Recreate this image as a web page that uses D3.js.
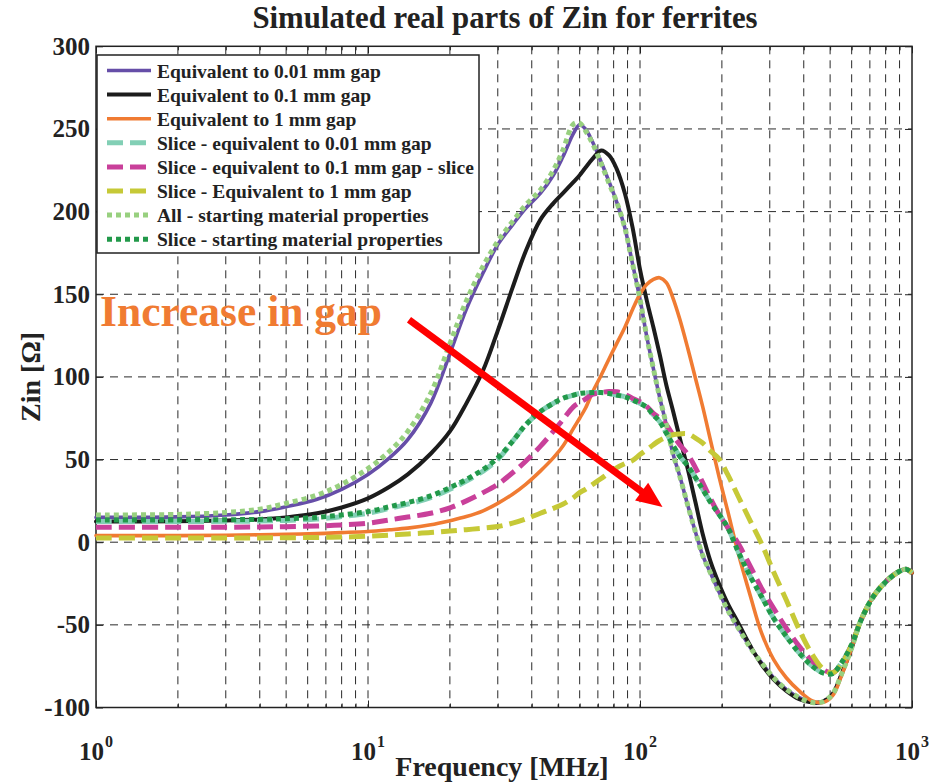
<!DOCTYPE html>
<html>
<head>
<meta charset="utf-8">
<script src="https://cdn.jsdelivr.net/npm/d3@7"></script>
<style>
  html, body { margin: 0; padding: 0; background: #fff; }
  svg { display: block; font-family: "Liberation Serif", "Times New Roman", serif; font-weight: bold; }
</style>
</head>
<body>
<svg id="chart" width="933" height="784"></svg>
<script>
// Frequency grid shared by every series (MHz)
const freqMHz = [1, 2, 3, 4, 5, 6.5, 8, 10, 12, 14,
  17, 20, 23, 26.5, 30, 34, 38, 43, 48, 52,
  57, 60, 63, 67, 72, 77, 82, 88, 94, 100,
  106, 112, 118, 125, 132, 140, 150, 160, 170, 182,
  195, 210, 230, 255, 280, 310, 345, 385, 430, 470,
  510, 550, 600, 650, 720, 800, 880, 950, 1000];

// Real part of Zin (ohm) for each configuration
const zinGap001 = [15, 15.3, 16.5, 18.5, 21.5, 26, 32, 41, 51, 62,
  84, 114, 141, 163, 180, 192, 202, 211, 222, 233,
  247.5, 252.5, 250, 242, 230, 218, 206, 190, 168, 147,
  124, 105, 88, 71, 54, 40, 22, 6, -8, -19,
  -30, -41, -52, -64, -73, -82, -89, -94, -97, -96.5,
  -92, -80, -64, -47, -33, -24, -18.5, -16.3, -18.5];

const zinGap01 = [12.5, 12.7, 13.2, 13.8, 15, 17.5, 21, 26.5, 33.5, 41,
  53.5, 67, 84, 104, 128, 154, 176, 195, 205, 211,
  218, 222, 226.5, 232, 237, 234, 226, 211, 190, 165,
  146, 130, 114, 95, 80, 63, 44, 24, 5, -12,
  -25, -37, -49, -63, -74, -83, -90, -95, -97, -96.5,
  -92, -80, -64, -47, -33, -24, -18.5, -16.3, -18.5];

const zinGap1 = [4, 4, 4.2, 4.5, 4.8, 5.2, 5.8, 6.5, 7.5, 8.5,
  10.5, 13, 15.5, 19, 23.5, 29, 35, 43, 51, 58,
  69, 75, 81, 91, 101, 111, 120, 130, 141, 150,
  156, 159, 160, 157, 148, 135, 117, 99, 82, 61,
  40, 19, -7, -33, -55, -71, -82, -90, -96, -97,
  -93, -81, -64, -47, -33, -24, -18.5, -16.3, -18.5];

const zinSliceGap001 = [12.5, 12.5, 12.6, 12.8, 13.2, 14, 15.5, 17.5, 20.5, 23,
  27, 32, 37, 43, 50, 61, 71, 79, 84, 87,
  89, 90, 90.3, 90.5, 90.5, 90, 89, 88, 86, 84,
  81.5, 77, 73, 66, 59, 52, 46, 39, 32, 24,
  17, 9, -6, -21, -33, -46, -57, -67, -75, -79,
  -79.5, -73, -62, -47, -33, -24, -18.5, -16.3, -18.5];

const zinSliceGap01 = [9, 9, 9, 9.2, 9.4, 9.8, 10.4, 11.5, 13.5, 15.2,
  17.5, 20.8, 25, 30, 35, 42, 49, 58, 67, 74,
  82, 84.5, 86.5, 89.5, 90.5, 91.2, 91, 89.5, 87, 85,
  82, 78, 75, 71, 65, 59, 53, 45, 36, 26,
  17, 9, -1, -15, -28, -40, -52, -63, -72, -77,
  -79, -74, -62, -47, -33, -24, -18.5, -16.3, -18.5];

const zinSliceGap1 = [2.5, 2.5, 2.5, 2.6, 2.7, 2.9, 3.1, 3.6, 4.3, 5,
  5.8, 6.8, 7.6, 8.5, 9.5, 11.5, 14, 17.5, 20.5, 23,
  27, 30, 32, 35, 38.5, 42, 45, 47.5, 49.5, 53,
  56, 59, 61.5, 63.5, 65, 65.5, 65.5, 63, 60, 55,
  50.5, 41, 27.5, 12.5, -1, -18, -35, -53, -68, -76.5,
  -79, -74, -62, -47, -33, -24, -18.5, -16.3, -18.5];

const zinAllStart = [16.5, 16.8, 18, 20, 23.5, 28.5, 35, 44.5, 55, 67,
  90, 120, 146, 167, 182, 194, 204, 213, 225, 237,
  253, 253.5, 249, 241, 229, 217, 206, 190, 168, 147,
  124, 105, 88, 71, 54, 40, 22, 6, -8, -19,
  -30, -41, -52, -64, -73, -82, -89, -94, -97, -96.5,
  -92, -80, -64, -47, -33, -24, -18.5, -16.3, -18.5];

const zinSliceStart = [13.5, 13.5, 13.6, 13.8, 14.2, 15, 16.5, 18.5, 21.5, 24,
  28, 33, 38, 44, 51, 61, 71, 79, 84, 87,
  89, 90, 90.3, 90.5, 90.5, 90, 89, 88, 86, 84,
  81.5, 77, 73, 66, 59, 52, 46, 39, 32, 24,
  17, 9, -6, -21, -33, -46, -57, -67, -75, -79,
  -79.5, -73, -62, -47, -33, -24, -18.5, -16.3, -18.5];

const seriesLabels = [
  "Equivalent to 0.01 mm gap",
  "Equivalent to 0.1 mm gap",
  "Equivalent to 1 mm gap",
  "Slice - equivalent to 0.01 mm gap",
  "Slice - equivalent to 0.1 mm gap - slice",
  "Slice - Equivalent to 1 mm gap",
  "All - starting material properties",
  "Slice - starting material properties"
];
const seriesValues = [zinGap001, zinGap01, zinGap1, zinSliceGap001, zinSliceGap01, zinSliceGap1, zinAllStart, zinSliceStart];

const yTickValues = [-100, -50, 0, 50, 100, 150, 200, 250, 300];
const xDecades = [1, 10, 100, 1000];
const xDecadeExponents = ["0", "1", "2", "3"];

// Annotation arrow, in data units (MHz, ohm)
const gapArrow = { from: [14.15, 134.6], to: [121, 21.3] };
const gapLabel = { text: "Increase in gap", at: [1.035, 131] };

// Line styles per series
const styles = [
  { color: "#664ea8", width: 3.6, dash: null },
  { color: "#1c1c1c", width: 4, dash: null },
  { color: "#f07b32", width: 3.6, dash: null },
  { color: "#82cfb5", width: 5, dash: "16,7" },
  { color: "#c9409a", width: 5, dash: "16,7" },
  { color: "#c6c937", width: 5, dash: "16,7" },
  { color: "#98d07f", width: 5, dash: "5,4" },
  { color: "#22994a", width: 5, dash: "5,4" }
];

const plot = { left: 96, right: 912, top: 46.3, bottom: 707.5 };
const x = d3.scaleLog().domain([1, 1000]).range([plot.left, plot.right]);
const y = d3.scaleLinear().domain([-100, 300]).range([plot.bottom, plot.top]);

const svg = d3.select("#chart");
svg.append("rect").attr("width", 933).attr("height", 784).attr("fill", "#fff");

// Log-spaced positions 1..9 per decade
const logPositions = [];
[1, 10, 100].forEach(d => { for (let m = 1; m < 10; m++) logPositions.push(d * m); });
logPositions.push(1000);
const minorPositions = logPositions.filter(v => !xDecades.includes(v));

// Grid
const grid = svg.append("g").attr("stroke", "#2a2a2a").attr("stroke-width", 1).attr("stroke-dasharray", "8,6");
grid.selectAll("line.vx").data(logPositions.filter(v => v > 1 && v < 1000)).join("line")
  .attr("class", "vx")
  .attr("x1", d => x(d)).attr("x2", d => x(d))
  .attr("y1", plot.top).attr("y2", plot.bottom);
grid.selectAll("line.hy").data(yTickValues.filter(v => v > -100 && v < 300)).join("line")
  .attr("class", "hy")
  .attr("x1", plot.left).attr("x2", plot.right)
  .attr("y1", d => y(d)).attr("y2", d => y(d));

// Tick marks on all four sides, pointing inward
function tickMarks(axisGen, transform) {
  const g = svg.append("g").attr("transform", transform).call(axisGen);
  g.select(".domain").remove();
  g.selectAll(".tick line").attr("stroke", "#222").attr("stroke-width", 1);
  g.selectAll(".tick text").remove();
  return g;
}
tickMarks(d3.axisBottom(x).tickValues(xDecades).tickSize(-7).tickFormat(""), `translate(0,${plot.bottom})`);
tickMarks(d3.axisBottom(x).tickValues(minorPositions).tickSize(-4).tickFormat(""), `translate(0,${plot.bottom})`);
tickMarks(d3.axisTop(x).tickValues(xDecades).tickSize(-7).tickFormat(""), `translate(0,${plot.top})`);
tickMarks(d3.axisTop(x).tickValues(minorPositions).tickSize(-4).tickFormat(""), `translate(0,${plot.top})`);
tickMarks(d3.axisLeft(y).tickValues(yTickValues).tickSize(-7).tickFormat(""), `translate(${plot.left},0)`);
tickMarks(d3.axisRight(y).tickValues(yTickValues).tickSize(-7).tickFormat(""), `translate(${plot.right},0)`);

// Y tick labels (plain hyphen for negatives)
const yAxis = svg.append("g").attr("transform", `translate(${plot.left},0)`)
  .call(d3.axisLeft(y).tickValues(yTickValues).tickSize(0).tickPadding(6).tickFormat(d => String(d)));
yAxis.select(".domain").remove();
yAxis.attr("font-family", null).attr("font-size", null);
yAxis.selectAll(".tick text").attr("font-size", 25).attr("fill", "#222");

// X tick labels: 10 with superscript exponent
const xLab = svg.append("g");
xDecades.forEach((d, i) => {
  const t = xLab.append("text").attr("x", x(d)).attr("y", 760)
    .attr("text-anchor", "middle").attr("fill", "#222");
  t.append("tspan").attr("font-size", 25).text("10");
  t.append("tspan").attr("font-size", 16).attr("dy", -13).attr("dx", 1).text(xDecadeExponents[i]);
});

// Plot box
svg.append("rect")
  .attr("x", plot.left).attr("y", plot.top)
  .attr("width", plot.right - plot.left).attr("height", plot.bottom - plot.top)
  .attr("fill", "none").attr("stroke", "#222").attr("stroke-width", 1.5);

// Curves
const line = d3.line()
  .x(d => x(d[0])).y(d => y(d[1]))
  .curve(d3.curveCatmullRom.alpha(0.5));

const curves = svg.append("g");
seriesValues.forEach((vals, i) => {
  const pts = freqMHz.map((f, k) => [f, vals[k]]);
  const s = styles[i];
  curves.append("path").datum(pts)
    .attr("d", line)
    .attr("fill", "none")
    .attr("stroke", s.color)
    .attr("stroke-width", s.width)
    .attr("stroke-dasharray", s.dash)
    .attr("stroke-linejoin", "round")
    .attr("stroke-linecap", s.dash ? "butt" : "round");
});

// Annotation: label and arrow
svg.append("text")
  .attr("x", x(gapLabel.at[0])).attr("y", y(gapLabel.at[1]))
  .attr("font-size", 43.5).attr("fill", "#f07b32")
  .text(gapLabel.text);

const ax0 = x(gapArrow.from[0]), ay0 = y(gapArrow.from[1]);
const ax1 = x(gapArrow.to[0]), ay1 = y(gapArrow.to[1]);
const ang = Math.atan2(ay1 - ay0, ax1 - ax0);
const headLen = 26, headHalf = 11;
const bx = ax1 - headLen * Math.cos(ang), by = ay1 - headLen * Math.sin(ang);
svg.append("line")
  .attr("x1", ax0).attr("y1", ay0).attr("x2", bx + 2 * Math.cos(ang)).attr("y2", by + 2 * Math.sin(ang))
  .attr("stroke", "#ff0000").attr("stroke-width", 7);
svg.append("polygon")
  .attr("points", [
    [ax1, ay1],
    [bx + headHalf * Math.sin(ang), by - headHalf * Math.cos(ang)],
    [bx - headHalf * Math.sin(ang), by + headHalf * Math.cos(ang)]
  ].map(p => p.join(",")).join(" "))
  .attr("fill", "#ff0000");

// Legend
const legend = svg.append("g");
legend.append("rect")
  .attr("x", 97).attr("y", 55).attr("width", 382).attr("height", 198)
  .attr("fill", "#fff").attr("stroke", "#222").attr("stroke-width", 1.5);
seriesLabels.forEach((lab, i) => {
  const ry = 70.5 + i * 24.1;
  const s = styles[i];
  legend.append("line")
    .attr("x1", 107).attr("x2", 151).attr("y1", ry).attr("y2", ry)
    .attr("stroke", s.color).attr("stroke-width", s.width)
    .attr("stroke-dasharray", s.dash);
  legend.append("text")
    .attr("x", 157).attr("y", ry + 7)
    .attr("font-size", 19.5).attr("fill", "#222")
    .text(lab);
});

// Titles
svg.append("text").attr("x", 505).attr("y", 28).attr("text-anchor", "middle")
  .attr("font-size", 30.8).attr("fill", "#222")
  .text("Simulated real parts of Zin for ferrites");
svg.append("text").attr("x", 502).attr("y", 776).attr("text-anchor", "middle")
  .attr("font-size", 28).attr("fill", "#222")
  .text("Frequency [MHz]");
svg.append("text")
  .attr("transform", `translate(40,${(plot.top + plot.bottom) / 2}) rotate(-90)`)
  .attr("text-anchor", "middle")
  .attr("font-size", 28).attr("fill", "#222")
  .text("Zin [Ω]");
</script>
</body>
</html>
